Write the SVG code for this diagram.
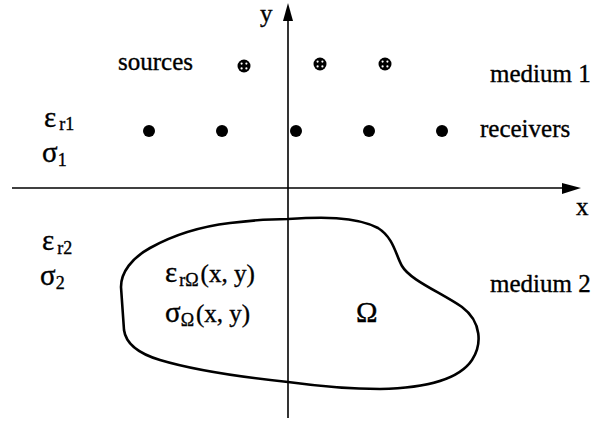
<svg xmlns="http://www.w3.org/2000/svg" width="594" height="421" viewBox="0 0 594 421">
<style>
text{font-family:"Liberation Serif","Times New Roman",serif;font-size:25px;fill:#000;stroke:#000;stroke-width:0.35}
.g{font-size:29px}
.sub{font-size:18px}
.ax{stroke:#000;stroke-width:1.6;fill:none}
.blob{stroke:#000;stroke-width:2.6;fill:none;stroke-linejoin:round}
</style>
<defs>
<g id="src"><circle r="6.5" fill="#000"/><circle cx="-2.4" cy="-2.4" r="1.1" fill="#fff"/><circle cx="2.4" cy="-2.4" r="1.1" fill="#fff"/><circle cx="-2.4" cy="2.4" r="1.1" fill="#fff"/><circle cx="2.4" cy="2.4" r="1.1" fill="#fff"/></g>
</defs>
<g id="axes">
<line class="ax" x1="288" y1="18" x2="288" y2="418"/>
<polygon points="288,3 283,21 293,21" fill="#000"/>
<line class="ax" x1="12" y1="188" x2="565" y2="188"/>
<polygon points="581,188 562,183 562,194" fill="#000"/>
<text x="260" y="22">y</text>
<text x="576" y="215">x</text>
</g>
<g id="sources">
<use href="#src" x="244" y="66"/>
<use href="#src" x="320" y="64"/>
<use href="#src" x="385" y="64"/>
<text x="118" y="70">sources</text>
</g>
<g id="receivers">
<circle cx="149" cy="131" r="6" fill="#000"/>
<circle cx="222" cy="131" r="6" fill="#000"/>
<circle cx="296" cy="131" r="6" fill="#000"/>
<circle cx="369" cy="131" r="6" fill="#000"/>
<circle cx="442" cy="131" r="6" fill="#000"/>
<text x="480" y="137">receivers</text>
</g>
<g id="medium1">
<text x="490" y="82">medium 1</text>
<text class="g" x="44" y="127">ε<tspan class="sub" dx="3" dy="3">r1</tspan></text>
<text class="g" x="42" y="162">σ<tspan class="sub" dy="4">1</tspan></text>
</g>
<g id="medium2">
<text x="490" y="292">medium 2</text>
<text class="g" x="42" y="250">ε<tspan class="sub" dx="3" dy="4">r2</tspan></text>
<text class="g" x="40" y="285">σ<tspan class="sub" dy="4">2</tspan></text>
</g>
<g id="omega">
<path class="blob" d="M288,219 C320,217 355,216 378,228 C394,238 396,256 402,266 C410,280 440,292 462,307 C482,322 482,345 472,360 C460,378 430,388 380,389 C340,389 310,385 288,382 C250,378 200,372 160,360 C140,354 126,345 124,330 L121,287 C121,272 132,258 150,248 C175,234 205,226 230,223 C255,220 275,219 288,219 Z"/>
<text class="g" x="165" y="282">ε<tspan class="sub" dx="2" dy="4">rΩ</tspan><tspan style="font-size:25px" dx="2" dy="-4">(x, y)</tspan></text>
<text class="g" x="165" y="322">σ<tspan class="sub" dy="4">Ω</tspan><tspan style="font-size:25px" dx="2" dy="-4">(x, y)</tspan></text>
<text class="g" x="356" y="322">Ω</text>
</g>
</svg>
